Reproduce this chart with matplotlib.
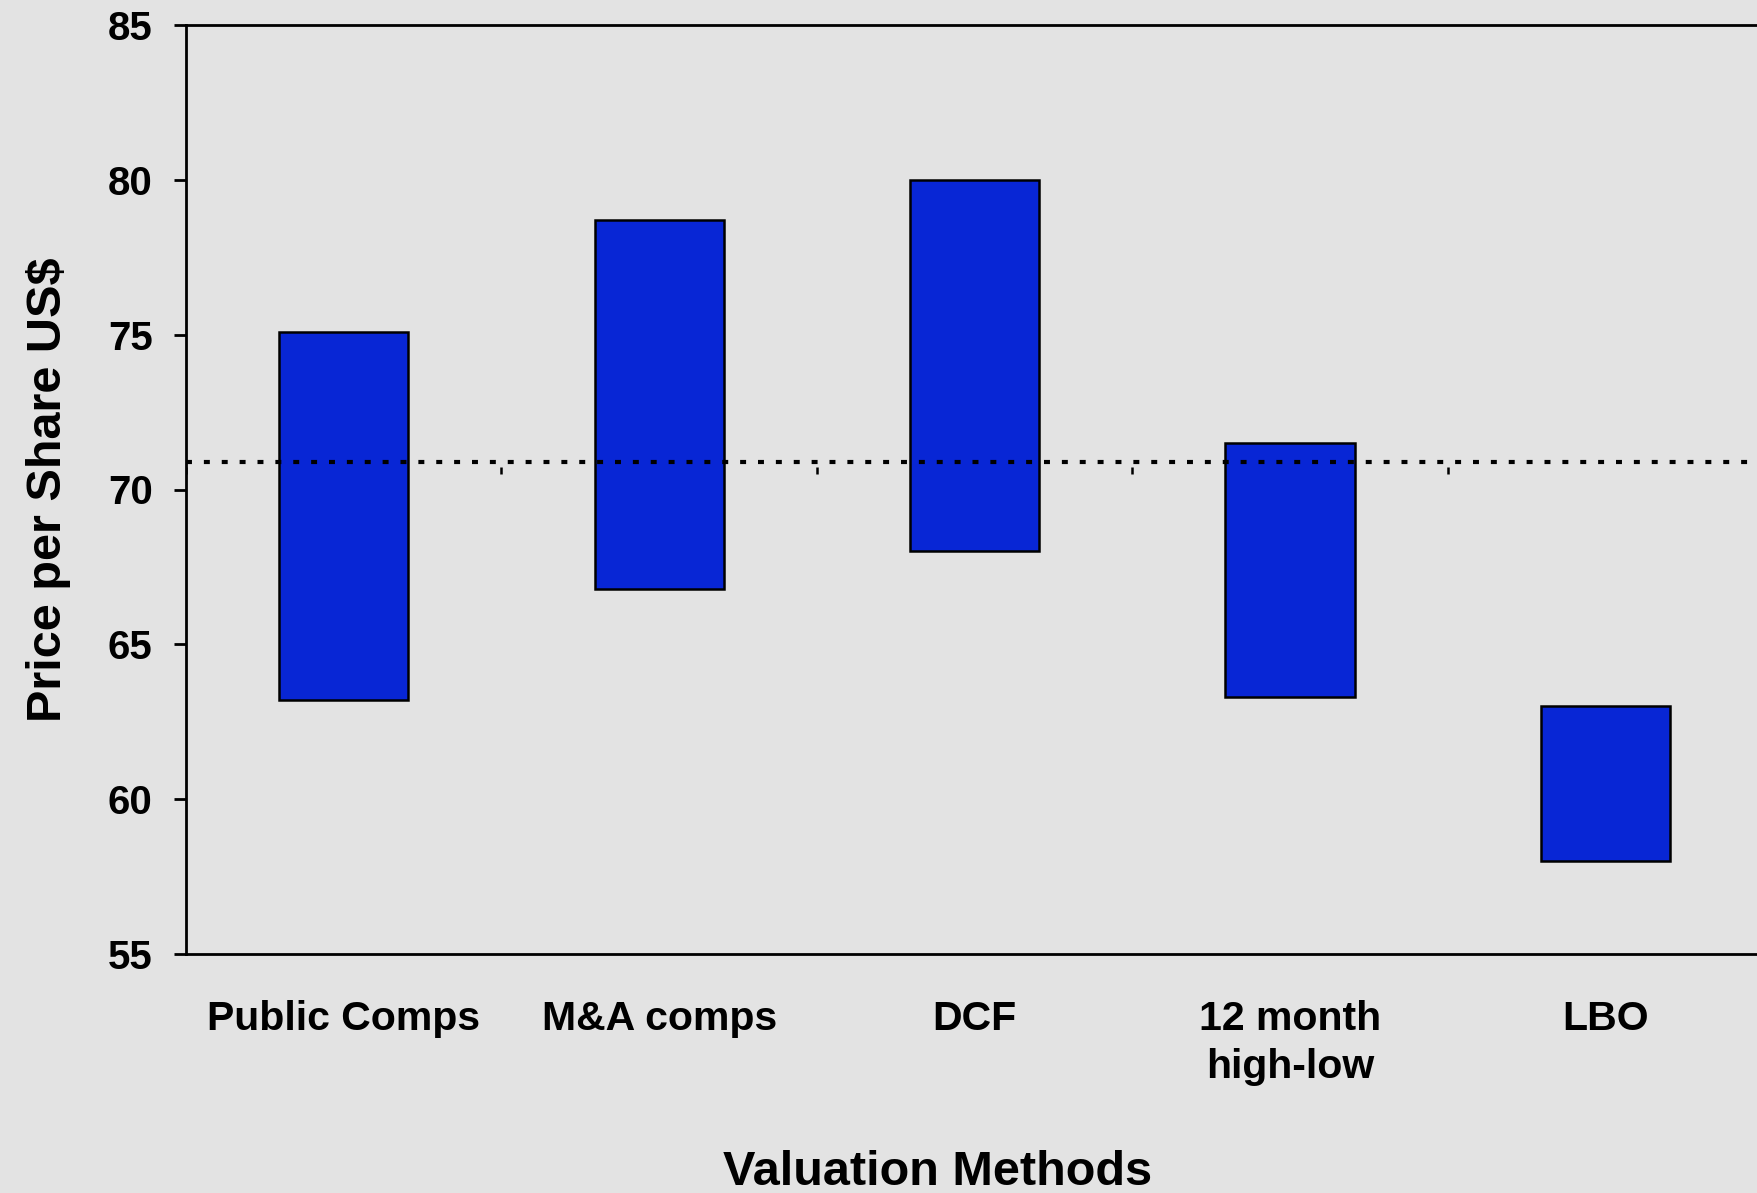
import numpy as np
import matplotlib
matplotlib.use('Agg')
import matplotlib.pyplot as plt

# valuation ranges (price per share, US$)
methods = ['Public Comps', 'M&A comps', 'DCF', '12 month\nhigh-low', 'LBO']
low_values = [63.2, 66.8, 68.0, 63.3, 58.0]
high_values = [75.1, 78.7, 80.0, 71.5, 63.0]
current_price = 70.9
axis_cross = 70.72  # where the category axis crosses (tick marks only)
y_ticks = [55, 60, 65, 70, 75, 80, 85]

plt.rcParams['font.family'] = ['Liberation Sans', 'DejaVu Sans']
plt.rcParams['font.weight'] = 'bold'

bg = '#E3E3E3'
fig = plt.figure(figsize=(17.57, 11.93), dpi=100, facecolor=bg)
ax = fig.add_axes([186 / 1757, 1 - 954 / 1193, 1 - 186 / 1757, (954 - 25) / 1193])
ax.set_facecolor(bg)

x = np.arange(len(methods))
lo = np.array(low_values)
hi = np.array(high_values)
ax.bar(x, hi - lo, bottom=lo, width=0.41, color='#0826D5',
       edgecolor='black', linewidth=1.8, zorder=2)

# current share price
ax.axhline(current_price, color='black', linewidth=3.0,
           linestyle=(0, (1.43, 2.86)), zorder=3)

# small category boundary ticks on the crossing axis
bounds = x - 0.5
ax.vlines(bounds, axis_cross - 0.22, axis_cross, color='black', linewidth=1.8, zorder=3)

ax.set_xlim(-0.5, 4.48)
ax.set_ylim(55, 85)
ax.set_yticks(y_ticks)
ax.set_yticklabels([str(v) for v in y_ticks], fontsize=29, fontweight='bold')
ax.set_xticks(x)
ax.set_xticklabels(methods, fontsize=29.5, fontweight='bold', linespacing=1.35)
ax.tick_params(axis='x', length=0, pad=33)
ax.tick_params(axis='y', length=9, width=2, pad=15, direction='out')

for side in ['left', 'bottom', 'top']:
    ax.spines[side].set_linewidth(2)
    ax.spines[side].set_color('black')
ax.spines['right'].set_visible(False)

ax.set_ylabel('Price per Share US$', fontsize=35, fontweight='bold')
ax.yaxis.set_label_coords(-0.0734, 0.5)
ax.set_xlabel('Valuation Methods', fontsize=35, fontweight='bold')
ax.xaxis.set_label_coords(0.4787, -0.211)

fig.savefig('out.png', dpi=100, facecolor=bg)
